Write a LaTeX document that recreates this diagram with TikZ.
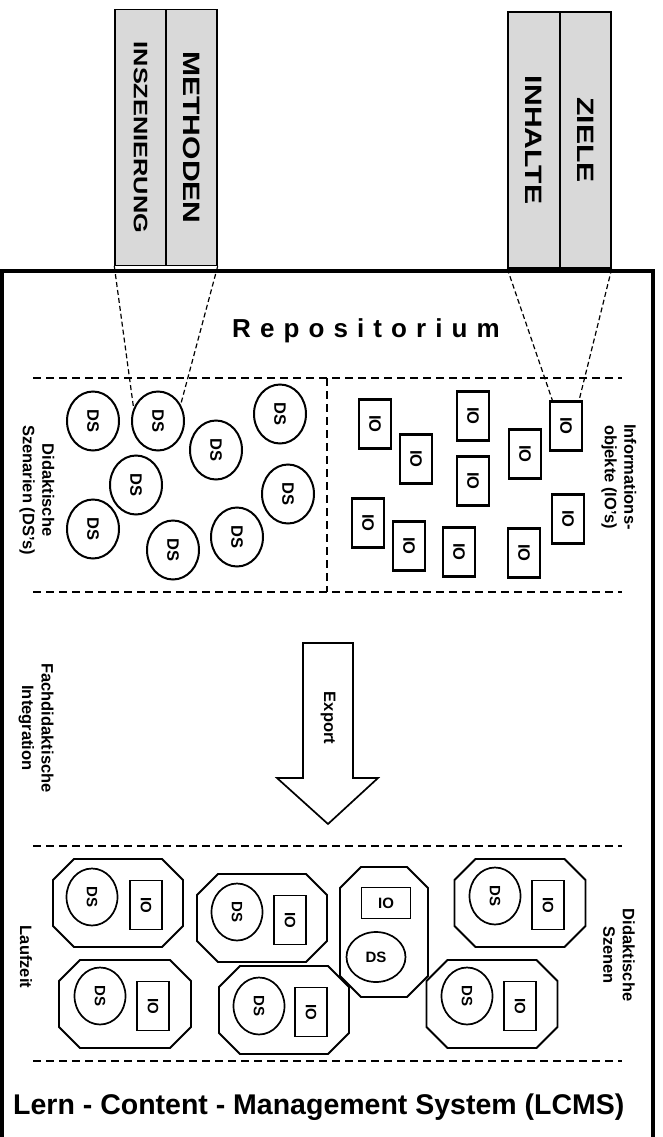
\documentclass[tikz,border=0pt]{standalone}
\usepackage{fontspec}
\setmainfont{Liberation Sans}
\usepackage{graphicx}
\usetikzlibrary{calc,shapes.geometric}

\begin{document}
\begin{tikzpicture}[x=1pt, y=-1pt,
    every node/.style={font=\bfseries\fontsize{16.5}{19.5}\selectfont, inner sep=0pt},
    colbox/.style={draw, fill=gray!30, line width=1.4pt, minimum width=51pt, minimum height=256pt},
    dsnode/.style={draw, ellipse, line width=2pt, minimum width=52pt, minimum height=59pt},
    ionode/.style={draw, rectangle, line width=2.2pt, minimum width=32pt, minimum height=49pt},
    sceneds/.style={dsnode, line width=1.7pt, minimum width=51pt, minimum height=57pt,
      font=\bfseries\fontsize{15}{18}\selectfont},
    sceneio/.style={ionode, line width=1.9pt, font=\bfseries\fontsize{15}{18}\selectfont},
    sepline/.style={line width=2.2pt, dash pattern=on 8pt off 5pt},
    guide/.style={line width=1.2pt, dash pattern=on 5pt off 3pt},
    scenebox/.style={line width=1.8pt},
    sidelabel/.style={rotate=-90, align=center}]
  \useasboundingbox (0,0) rectangle (662,1137);
  % LCMS frame
  \draw[line width=3.5pt] (2,1137) -- (2,271) -- (653,271) -- (653,1137);
  % grey columns above the repository
  \node[colbox] (insz) at (140.5,137.5)
    {\rotatebox{-90}{\scalebox{1.3}[1]{\fontsize{19.5}{23}\selectfont INSZENIERUNG}}};
  \node[colbox] (meth) at (191.5,137.5)
    {\rotatebox{-90}{\scalebox{1.27}[1]{\fontsize{23.7}{28}\selectfont METHODEN}}};
  \node[colbox, minimum width=52pt] (inh) at (534,140)
    {\rotatebox{-90}{\scalebox{1.27}[1]{\fontsize{23.7}{28}\selectfont INHALTE}}};
  \node[colbox] (ziel) at (585.5,140)
    {\rotatebox{-90}{\scalebox{1.27}[1]{\fontsize{23.7}{28}\selectfont ZIELE}}};
  % title of the repository
  \node[anchor=base west, font=\bfseries\fontsize{26}{30}\selectfont\addfontfeature{LetterSpace=35}]
    (repo) at (232,337) {Repositorium};
  % dashed separators
  \foreach \sy in {378,592,846,1061}
    \draw[sepline] (33,\sy) -- (622,\sy);
  \draw[sepline, line width=1.6pt] (327,378) -- (327,592);
  % didactic scenarios
  \foreach \n/\px/\py in {1/93/421, 2/158/421, 3/216/450, 4/280/414, 5/136/485,
      6/288/494, 7/93/529, 8/173/550, 9/237/537}
    \node[dsnode] (ds\n) at (\px,\py) {\rotatebox{-90}{DS}};
  % information objects
  \foreach \n/\px/\py in {1/375/424, 2/416/459, 3/473/416, 4/473/481, 5/525/454,
      6/566/426, 7/368/523, 8/409/546, 9/459/552, 10/524/553, 11/568/519}
    \node[ionode] (io\n) at (\px,\py) {\rotatebox{-90}{IO}};
  % guide lines from the columns
  \draw[guide] (insz.south west) -- (ds2.152);
  \draw[guide] (meth.south east) -- (ds2.36);
  \draw[guide] (inh.south west) -- (io6.118);
  \draw[guide] (ziel.south east) -- (io6.63);
  % side labels
  \node[sidelabel] (dslbl) at (37,490) {Didaktische\\Szenarien (DS’s)};
  \node[sidelabel] (iolbl) at (619,477) {Informations-\\objekte (IO’s)};
  \node[sidelabel] (fdlbl) at (36,728) {Fachdidaktische\\Integration};
  \node[sidelabel] (lzlbl) at (26,957) {Laufzeit};
  \node[sidelabel] (szlbl) at (619,955) {Didaktische\\Szenen};
  % export arrow
  \draw[line width=1.7pt, fill=white] (303,643) -- (353,643) -- (353,778) -- (378,778)
    -- (328,824) -- (277,778) -- (303,778) -- cycle;
  \node[rotate=-90] (export) at (328,718) {Export};
  % didactic scenes (octagons)
  \pgfmathsetmacro{\ch}{21}
  \foreach \cx/\cy/\w/\h in {118/903/130/88, 262/918/130/88, 125/1004/132/88,
      284/1010/130/88, 384/932/88/130, 520/903/131/88, 492/1004/131/88}
    \draw[scenebox] (\cx-\w/2+\ch,\cy-\h/2) -- ++(\w-2*\ch,0) -- ++(\ch,\ch)
      -- ++(0,\h-2*\ch) -- ++(-\ch,\ch) -- ++(-\w+2*\ch,0) -- ++(-\ch,-\ch)
      -- ++(0,-\h+2*\ch) -- cycle;
  \foreach \n/\dx/\dy/\ix/\iy in {1/92/897/146/905, 2/237/912/290/920,
      3/100/996/153/1006, 4/259/1006/311/1012, 6/495/896/548/905, 7/467/996/520/1006} {
    \node[sceneds] (sds\n) at (\dx,\dy) {\rotatebox{-90}{DS}};
    \node[sceneio] (sio\n) at (\ix,\iy) {\rotatebox{-90}{IO}};
  }
  \node[sceneio, minimum width=49pt, minimum height=31pt] (sio5) at (386,903) {IO};
  \node[sceneds, minimum width=59pt, minimum height=50pt] (sds5) at (376,957) {DS};
  % system name
  \node[anchor=base west, font=\bfseries\fontsize{28.5}{34}\selectfont]
    (lcms) at (13,1114) {Lern - Content - Management System (LCMS)};
\end{tikzpicture}
\end{document}
